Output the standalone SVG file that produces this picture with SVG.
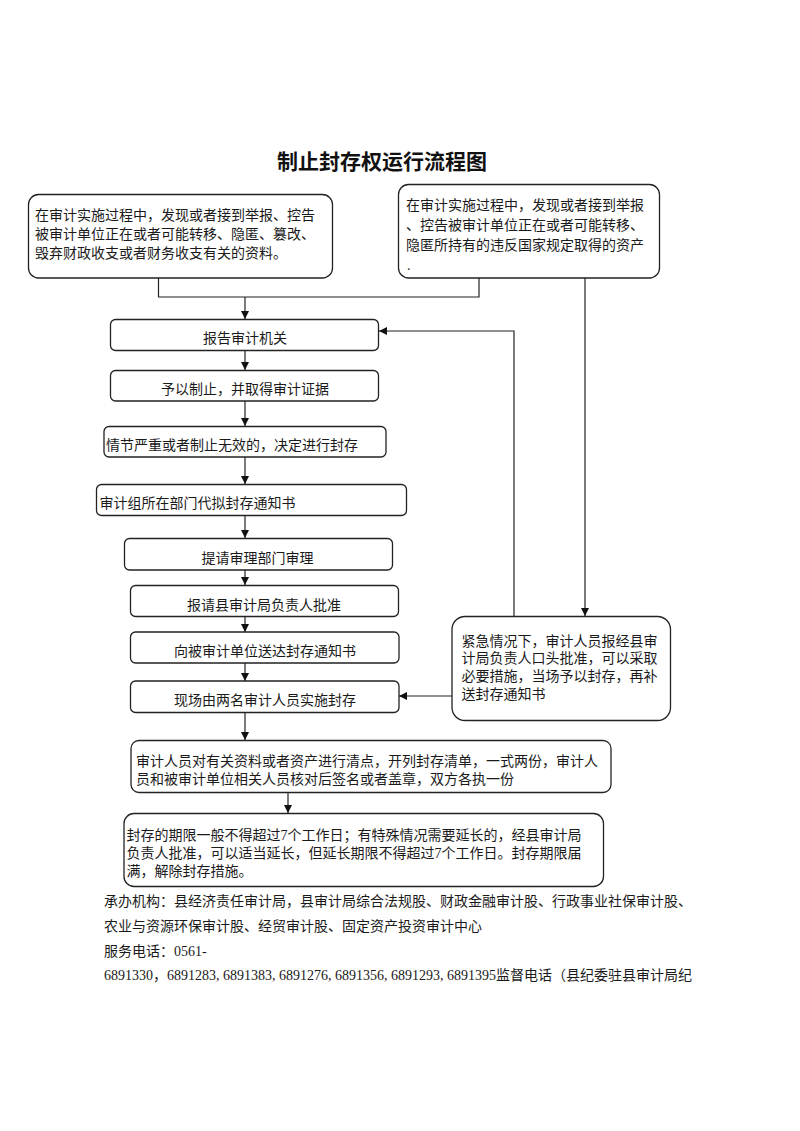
<svg xmlns="http://www.w3.org/2000/svg" width="800" height="1131" viewBox="0 0 800 1131">
<style>
  .box { fill: #ffffff; stroke: #222; stroke-width: 1.3; }
  .t { font-family: "Liberation Serif", "Noto Sans CJK SC", serif; font-size: 14px; fill: #1a1a1a; }
  .c { text-anchor: middle; }
  .title { font-family: "Noto Sans CJK SC", "Liberation Sans", sans-serif; font-size: 21px; font-weight: bold; fill: #111; text-anchor: middle; }
  .conn { fill: none; stroke: #222; stroke-width: 1.2; }
</style>
<defs>
  <marker id="arr" viewBox="0 0 8 8" refX="8" refY="4" markerWidth="8" markerHeight="8" markerUnits="userSpaceOnUse" orient="auto">
    <path d="M0,0 L8,4 L0,8 Z" fill="#111"/>
  </marker>
</defs>
<rect width="800" height="1131" fill="#ffffff"/>
<text class="title" x="382" y="169">制止封存权运行流程图</text>

<g id="connectors">
  <polyline class="conn" points="158.5,278 158.5,297 479,297 479,278"/>
  <line class="conn" x1="245" y1="297" x2="245" y2="319" marker-end="url(#arr)"/>
  <line class="conn" x1="245" y1="351" x2="245" y2="370" marker-end="url(#arr)"/>
  <line class="conn" x1="245" y1="401" x2="245" y2="426" marker-end="url(#arr)"/>
  <line class="conn" x1="245" y1="457" x2="245" y2="484" marker-end="url(#arr)"/>
  <line class="conn" x1="245" y1="516" x2="245" y2="538" marker-end="url(#arr)"/>
  <line class="conn" x1="245" y1="570" x2="245" y2="585" marker-end="url(#arr)"/>
  <line class="conn" x1="245" y1="617" x2="245" y2="632" marker-end="url(#arr)"/>
  <line class="conn" x1="245" y1="663" x2="245" y2="681" marker-end="url(#arr)"/>
  <line class="conn" x1="245" y1="712" x2="245" y2="740" marker-end="url(#arr)"/>
  <line class="conn" x1="288" y1="792" x2="288" y2="813" marker-end="url(#arr)"/>
  <line class="conn" x1="585" y1="278" x2="585" y2="616" marker-end="url(#arr)"/>
  <polyline class="conn" points="514,616 514,331 379,331" marker-end="url(#arr)"/>
  <line class="conn" x1="452" y1="696" x2="399" y2="696" marker-end="url(#arr)"/>
</g>

<g id="nodeA">
  <rect class="box" x="28.5" y="194.5" width="304" height="83.5" rx="10"/>
  <text class="t" x="35" y="220">在审计实施过程中，发现或者接到举报、控告</text>
  <text class="t" x="35" y="238.8">被审计单位正在或者可能转移、隐匿、篡改、</text>
  <text class="t" x="35" y="257.5">毁弃财政收支或者财务收支有关的资料。</text>
</g>

<g id="nodeB">
  <rect class="box" x="398.5" y="184.5" width="261" height="93.5" rx="10"/>
  <text class="t" x="406" y="209.5">在审计实施过程中，发现或者接到举报</text>
  <text class="t" x="406" y="229.5">、控告被审计单位正在或者可能转移、</text>
  <text class="t" x="406" y="249.5">隐匿所持有的违反国家规定取得的资产</text>
  <text class="t" x="407" y="270">.</text>
</g>

<g id="n1">
  <rect class="box" x="110.5" y="319.5" width="268" height="31" rx="5"/>
  <text class="t c" x="245" y="343">报告审计机关</text>
</g>

<g id="n2">
  <rect class="box" x="110.5" y="370.5" width="268" height="30.5" rx="5"/>
  <text class="t c" x="245" y="394">予以制止，并取得审计证据</text>
</g>

<g id="n3">
  <rect class="box" x="104" y="426.5" width="282" height="30.5" rx="5"/>
  <text class="t" x="106" y="449.5">情节严重或者制止无效的，决定进行封存</text>
</g>

<g id="n4">
  <rect class="box" x="96.5" y="484.5" width="310" height="31" rx="5"/>
  <text class="t" x="99.5" y="508">审计组所在部门代拟封存通知书</text>
</g>

<g id="n5">
  <rect class="box" x="124.5" y="538.5" width="268" height="31.5" rx="5"/>
  <text class="t c" x="257.5" y="563">提请审理部门审理</text>
</g>

<g id="n6">
  <rect class="box" x="130.5" y="585.5" width="268" height="31" rx="5"/>
  <text class="t c" x="264" y="609.5">报请县审计局负责人批准</text>
</g>

<g id="n7">
  <rect class="box" x="130.5" y="632" width="268.5" height="31" rx="5"/>
  <text class="t c" x="265" y="655.5">向被审计单位送达封存通知书</text>
</g>

<g id="n8">
  <rect class="box" x="130.5" y="681" width="268.5" height="31.5" rx="5"/>
  <text class="t c" x="265" y="705">现场由两名审计人员实施封存</text>
</g>

<g id="nEmergency">
  <rect class="box" x="452" y="616.5" width="218.5" height="104" rx="13"/>
  <text class="t" x="461.5" y="645.5">紧急情况下，审计人员报经县审</text>
  <text class="t" x="461.5" y="663">计局负责人口头批准，可以采取</text>
  <text class="t" x="461.5" y="681">必要措施，当场予以封存，再补</text>
  <text class="t" x="461.5" y="698.5">送封存通知书</text>
</g>

<g id="n9">
  <rect class="box" x="131" y="740.5" width="480" height="52" rx="8"/>
  <text class="t" x="136" y="766">审计人员对有关资料或者资产进行清点，开列封存清单，一式两份，审计人</text>
  <text class="t" x="136" y="783.5">员和被审计单位相关人员核对后签名或者盖章，双方各执一份</text>
</g>

<g id="n10">
  <rect class="box" x="124" y="813.5" width="479.5" height="73" rx="10"/>
  <text class="t" x="126.5" y="839.5">封存的期限一般不得超过7个工作日；有特殊情况需要延长的，经县审计局</text>
  <text class="t" x="126.5" y="857.5">负责人批准，可以适当延长，但延长期限不得超过7个工作日。封存期限届</text>
  <text class="t" x="126.5" y="876">满，解除封存措施。</text>
</g>

<g id="footer">
  <text class="t" x="104" y="905.5">承办机构：县经济责任审计局，县审计局综合法规股、财政金融审计股、行政事业社保审计股、</text>
  <text class="t" x="104" y="930.5">农业与资源环保审计股、经贸审计股、固定资产投资审计中心</text>
  <text class="t" x="104" y="955.5">服务电话：0561-</text>
  <text class="t" x="104" y="979.5">6891330，6891283, 6891383, 6891276, 6891356, 6891293, 6891395监督电话（县纪委驻县审计局纪</text>
</g>
</svg>
